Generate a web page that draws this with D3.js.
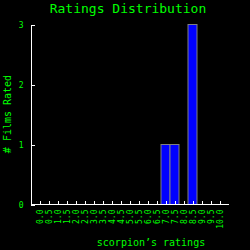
<!DOCTYPE html>
<html>
<head>
<meta charset="utf-8">
<style>
body { margin: 0; background: #000; }
text { fill: #00ff00; font-family: "DejaVu Sans Mono", monospace; }
.axis path, .axis line { stroke: #fff; shape-rendering: crispEdges; }
</style>
</head>
<body>
<script src="https://cdn.jsdelivr.net/npm/d3@7"></script>
<script>
var ratings = [0,0.5,1,1.5,2,2.5,3,3.5,4,4.5,5,5.5,6,6.5,7,7.5,8,8.5,9,9.5,10];
var tickLabels = ["0.0","0.5","1.0","1.5","2.0","2.5","3.0","3.5","4.0","4.5","5.0","5.5","6.0","6.5","7.0","7.5","8.0","8.5","9.0","9.5","10.0"];
var counts = [0,0,0,0,0,0,0,0,0,0,0,0,0,0,1,1,0,3,0,0,0];
var yTicks = [0,1,2,3];

var width = 250, height = 250;

var svg = d3.select("body").append("svg")
    .attr("width", width)
    .attr("height", height)
    .style("background", "#000");

var x = d3.scaleLinear().domain([-0.5, 10.5]).range([30.5, 228.5]);
var y = d3.scaleLinear().domain([0, 3]).range([204.5, 24.5]);

// bars
svg.append("g")
    .selectAll("rect")
    .data(ratings.filter(function(d, i) { return counts[i] > 0; }))
    .enter().append("rect")
    .attr("x", function(d) { return x(d - 0.25); })
    .attr("width", function(d) { return x(d + 0.25) - x(d - 0.25); })
    .attr("y", function(d) { return y(counts[ratings.indexOf(d)]); })
    .attr("height", function(d) { return y(0) - y(counts[ratings.indexOf(d)]); })
    .style("fill", "#0000ff")
    .style("stroke", "#808080")
    .style("stroke-width", 1);

// y axis
var yAxis = svg.append("g")
    .attr("class", "axis")
    .attr("transform", "translate(" + x(-0.5) + ",0)")
    .call(d3.axisLeft(y).tickValues(yTicks).tickFormat(d3.format("d"))
        .tickSizeInner(-4).tickSizeOuter(0).tickPadding(7));
yAxis.selectAll("text").style("font-size", "8px").style("fill", "#00ff00");

// x axis
var xAxis = svg.append("g")
    .attr("class", "axis")
    .attr("transform", "translate(0," + y(0) + ")")
    .call(d3.axisBottom(x).tickValues(ratings)
        .tickFormat(function(d, i) { return tickLabels[i]; })
        .tickSizeInner(-4).tickSizeOuter(0));
xAxis.selectAll("text")
    .style("font-size", "8px")
    .style("fill", "#00ff00")
    .style("text-anchor", "end")
    .attr("transform", "rotate(-90)")
    .attr("x", -5)
    .attr("y", 0)
    .attr("dy", "0.35em");
xAxis.select(".domain").attr("d", "M" + x(-0.5) + ",0H" + x(10.5));

// titles
svg.append("text")
    .attr("x", 128)
    .attr("y", 13)
    .attr("text-anchor", "middle")
    .style("font-size", "13px")
    .text("Ratings Distribution");

svg.append("text")
    .attr("transform", "translate(11,114) rotate(-90)")
    .attr("text-anchor", "middle")
    .style("font-size", "10px")
    .text("# Films Rated");

svg.append("text")
    .attr("x", 151)
    .attr("y", 246)
    .attr("text-anchor", "middle")
    .style("font-size", "10px")
    .text("scorpion\u2019s ratings");
</script>
</body>
</html>
